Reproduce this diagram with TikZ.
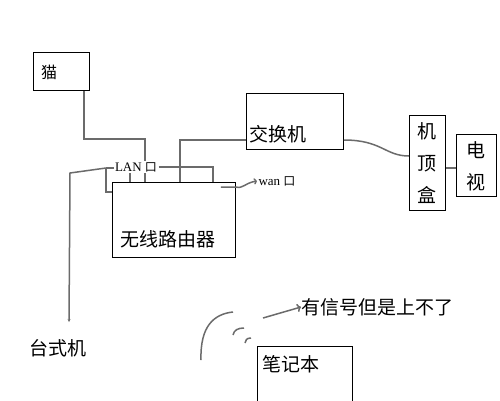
\documentclass[tikz,border=0pt]{standalone}
\usepackage{fontspec}
\setmainfont{Liberation Serif}
\newfontfamily\cjk{Noto Sans CJK SC}
\usetikzlibrary{positioning,arrows.meta}
\tikzset{
  box/.style={draw, line width=0.8pt, anchor=north west, inner sep=0pt},
  wire/.style={draw=black!58, line width=1.5pt},
  zh/.style={font=\cjk\fontsize{19}{19}\selectfont, inner sep=0pt},
  port/.style={font=\fontsize{13}{13}\selectfont, inner sep=1.5pt, fill=white},
}
\begin{document}
\begin{tikzpicture}[x=1pt, y=-1pt]
  \useasboundingbox (0,0) rectangle (500,400);
  % boxes
  \node[box, minimum width=56, minimum height=38] (mao) at (33,52) {};
  \node[box, minimum width=97, minimum height=56] (switch) at (246,93) {};
  \node[box, minimum width=36, minimum height=95] (stb) at (409,115) {};
  \node[box, minimum width=40, minimum height=62] (tv) at (456,134) {};
  \node[box, minimum width=123, minimum height=75] (router) at (112,182) {};
  \node[box, minimum width=95, minimum height=64] (laptop) at (257,346) {};
  % texts
  \node[zh, font=\cjk\fontsize{16}{16}\selectfont, anchor=west] (maotext) at (41,72) {猫};
  \node[zh, anchor=west] (switchtext) at (249,134) {交换机};
  \node[zh, align=center, font=\cjk\fontsize{19}{32}\selectfont] (stbtext) at (427,163) {机\\顶\\盒};
  \node[zh, align=center, font=\cjk\fontsize{19}{32}\selectfont] (tvtext) at (476,166) {电\\视};
  \node[zh, anchor=west] (routertext) at (120,239) {无线路由器};
  \node[zh] (desk) at (58,348) {台式机};
  \node[zh, anchor=west] (laptoptext) at (262,364) {笔记本};
  \node[zh, anchor=west] (sig) at (301,307) {有信号但是上不了};
  % wires
  \coordinate (lanL) at (106,168);
  \draw[wire] ([xshift=-6pt]mao.south east) -- ++(0,48) -| ([xshift=33pt]router.north west);
  \draw[wire] ([xshift=68pt]router.north west) |- ([yshift=-47pt]switch.north west);
  \draw[wire] ([yshift=-47pt]switch.north east) .. controls (382,140) and (385,156) .. ([yshift=-41pt]stb.north west);
  \draw[wire] (stb.east |- 0,168) -- (tv.west |- 0,168);
  \draw[wire, -{Stealth[length=3pt,width=3pt]}] (lanL) -- ++(-36,5) -- ([xshift=11pt,yshift=17pt]desk.north);
  \draw[wire] (lanL) |- ([yshift=-10pt]router.north west);
  \draw[wire] (lanL) -| ([xshift=18pt]router.north west);
  \node[port] (lan) at (136,167) {LAN {\cjk\fontsize{12}{12}\selectfont 口}};
  \draw[wire] (lan.east) -| ([xshift=101pt]router.north west);
  \node[port] (wan) at (277,181) {wan {\cjk\fontsize{12}{12}\selectfont 口}};
  \draw[wire, -{To[length=3pt]}] ([xshift=-15pt,yshift=-5pt]router.north east) -- ([yshift=-5pt]router.north east)
    .. controls (243,189) and (245,183) .. (wan.west);
  % wireless
  \draw[wire] (201,360) .. controls (200,326) and (214,314) .. (233,312);
  \draw[wire] (233,335) .. controls (234,330) and (238,328) .. (244,328);
  \draw[wire] (245,343) .. controls (245,340) and (247,338) .. (251,338);
  \draw[wire, -{To[length=4pt]}] (263,318) -- (sig.west);
\end{tikzpicture}
\end{document}
